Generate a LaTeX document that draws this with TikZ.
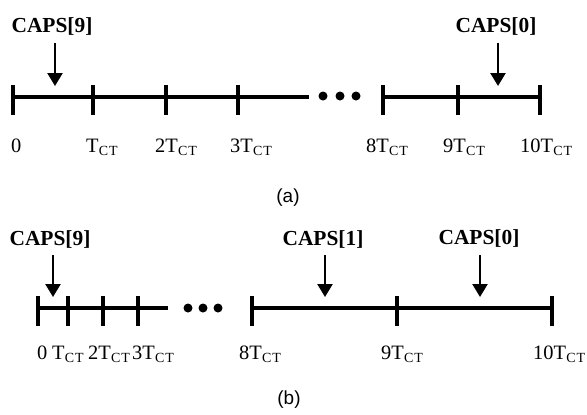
\documentclass[tikz,border=0pt]{standalone}
\usepackage{fontspec}
\setmainfont{Liberation Serif}
\setsansfont{Liberation Sans}
\usetikzlibrary{arrows.meta}
\newcommand{\tct}{T\kern0.3bp\raisebox{-3.5bp}{\fontsize{14}{14}\selectfont C\kern0.8bp T}}
\begin{document}
\begin{tikzpicture}[x=1bp,y=-1bp,
  axisline/.style={line width=3.2bp},
  tickmark/.style={line width=3.4bp},
  arr/.style={line width=2.4bp,-{Triangle[width=15bp,length=13bp]}},
  capslbl/.style={font=\fontsize{21.5}{21.5}\selectfont\bfseries, anchor=base, inner sep=0pt},
  ticklbl/.style={font=\fontsize{20.5}{20.5}\selectfont, anchor=base west, inner sep=0pt},
  caption/.style={font=\sffamily\fontsize{19}{19}\selectfont, inner sep=0pt},
  dotmark/.style={circle, fill, inner sep=0pt, minimum size=9bp}]
\useasboundingbox (0,0) rectangle (587,414);

% ---------- (a) ----------
\foreach \n/\x in {a0/13,a1/93,a2/166,a3/238,a8/383,a9/458,a10/540}{
  \coordinate (\n t) at (\x,85);
  \coordinate (\n b) at (\x,115);
  \coordinate (\n) at (\x,97);
  \draw[tickmark] (\n t) -- (\n b);
}
\draw[axisline] (a0) -- (309,97);
\draw[axisline] (a8) -- (a10);
\node[dotmark] (ad1) at (323,96) {};
\node[dotmark] (ad2) at (340,96) {};
\node[dotmark] (ad3) at (356,96) {};

\node[ticklbl] (la0) at (11,152) {0};
\node[ticklbl] (la1) at (86,152) {\tct};
\node[ticklbl] (la2) at (155,152) {2\tct};
\node[ticklbl] (la3) at (230,152) {3\tct};
\node[ticklbl] (la8) at (366,152) {8\tct};
\node[ticklbl] (la9) at (443,152) {9\tct};
\node[ticklbl] (la10) at (520,152) {10\tct};

\node[capslbl] (ca9) at (52,32) {CAPS[9]};
\node[capslbl] (ca0) at (496,32) {CAPS[0]};
\coordinate (ca9s) at (55,43);  \coordinate (ca9e) at (55,86);
\coordinate (ca0s) at (498,43); \coordinate (ca0e) at (498,86);
\draw[arr] (ca9s) -- (ca9e);
\draw[arr] (ca0s) -- (ca0e);

\node[caption] (capa) at (288,198) {(a)};

% ---------- (b) ----------
\foreach \n/\x in {b0/38,b1/68,b2/103,b3/138,b8/252,b9/397,b10/552}{
  \coordinate (\n t) at (\x,296);
  \coordinate (\n b) at (\x,326);
  \coordinate (\n) at (\x,308);
  \draw[tickmark] (\n t) -- (\n b);
}
\draw[axisline] (b0) -- (168,308);
\draw[axisline] (b8) -- (b10);
\node[dotmark] (bd1) at (188,308) {};
\node[dotmark] (bd2) at (203,308) {};
\node[dotmark] (bd3) at (218,308) {};

\node[ticklbl] (lb0) at (37,359) {0};
\node[ticklbl] (lb1) at (52,359) {\tct};
\node[ticklbl] (lb2) at (88,359) {2\tct};
\node[ticklbl] (lb3) at (132,359) {3\tct};
\node[ticklbl] (lb8) at (239,359) {8\tct};
\node[ticklbl] (lb9) at (381,359) {9\tct};
\node[ticklbl] (lb10) at (533,359) {10\tct};

\node[capslbl] (cb9) at (50,245) {CAPS[9]};
\node[capslbl] (cb1) at (323,245) {CAPS[1]};
\node[capslbl] (cb0) at (479,244) {CAPS[0]};
\coordinate (cb9s) at (53,255);  \coordinate (cb9e) at (53,297);
\coordinate (cb1s) at (325,255); \coordinate (cb1e) at (325,297);
\coordinate (cb0s) at (480,255); \coordinate (cb0e) at (480,297);
\draw[arr] (cb9s) -- (cb9e);
\draw[arr] (cb1s) -- (cb1e);
\draw[arr] (cb0s) -- (cb0e);

\node[caption] (capb) at (289,400) {(b)};
\end{tikzpicture}
\end{document}
